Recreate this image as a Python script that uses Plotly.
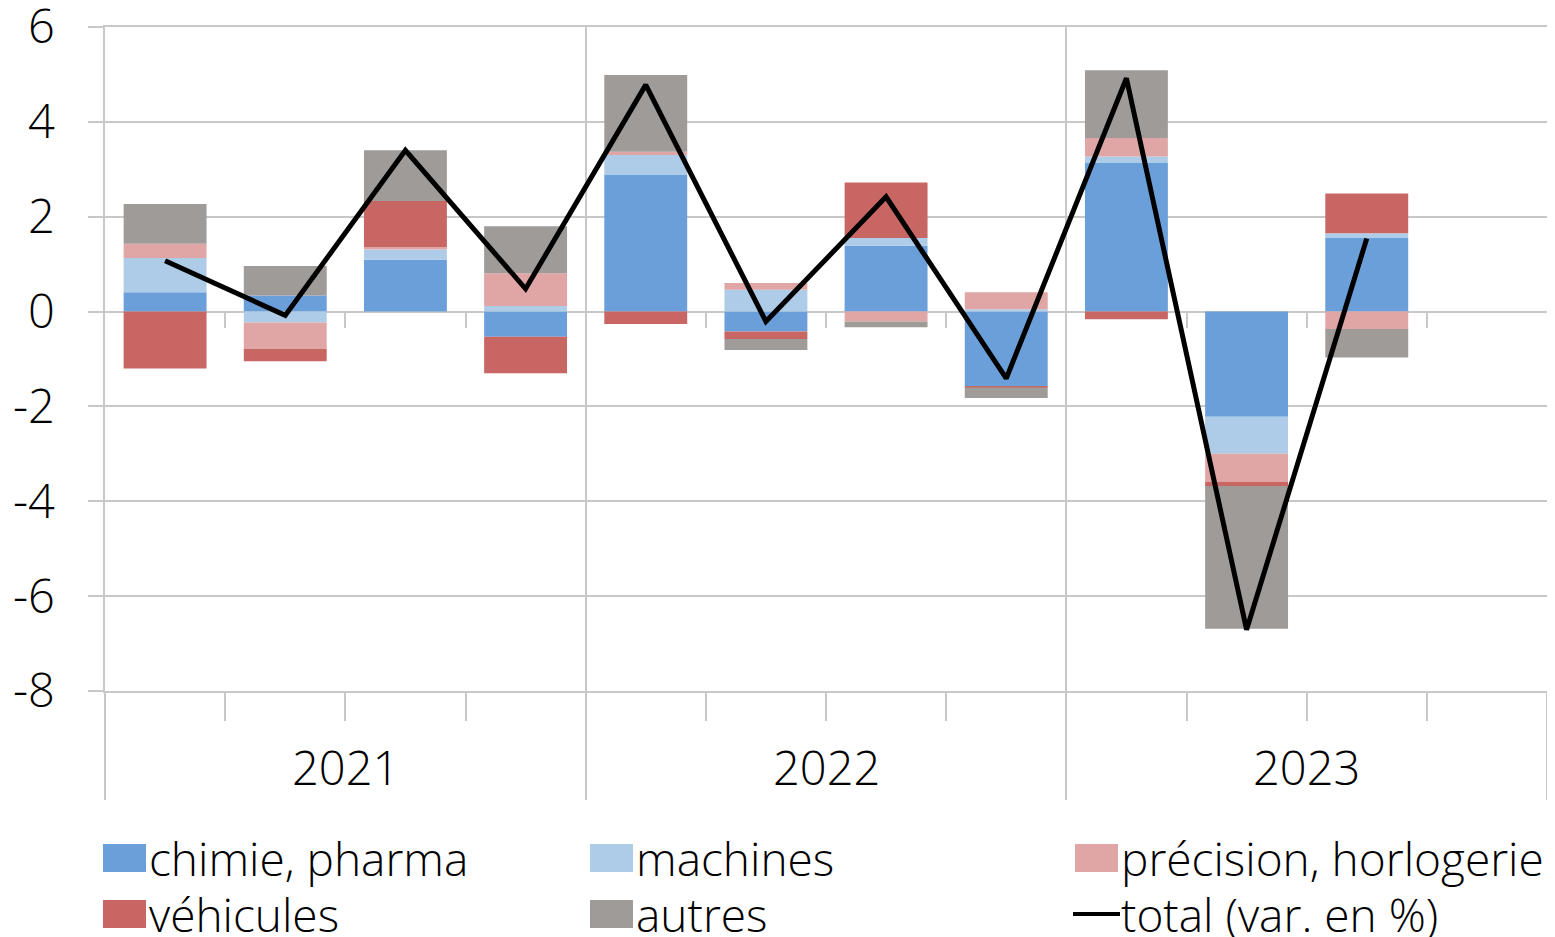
import plotly.graph_objects as go

# Trimestres 2021T1 .. 2023T4 (le dernier trimestre n'a pas encore de données)
years = ["2021", "2022", "2023"]
quarters = ["T1", "T2", "T3", "T4"]
periods = [f"{y}{q}" for y in years for q in quarters]

# Contributions à la variation (points de %)
chimie = [0.41, 0.34, 1.09, -0.53, 2.88, -0.42, 1.39, -1.57, 3.13, -2.22, 1.55, None]
machines = [0.72, -0.23, 0.22, 0.12, 0.42, 0.46, 0.16, 0.05, 0.14, -0.78, 0.10, None]
precision = [0.30, -0.56, 0.05, 0.69, 0.07, 0.14, -0.21, 0.36, 0.39, -0.59, -0.37, None]
vehicules = [-1.20, -0.26, 0.97, -0.77, -0.26, -0.16, 1.17, -0.03, -0.16, -0.09, 0.84, None]
autres = [0.84, 0.62, 1.07, 0.99, 1.62, -0.23, -0.12, -0.22, 1.43, -3.01, -0.60, None]
total = [1.07, -0.08, 3.40, 0.48, 4.78, -0.21, 2.42, -1.41, 4.92, -6.71, 1.54, None]

series = [
    ("chimie, pharma", chimie, "#6A9FDA"),
    ("machines", machines, "#AECBE8"),
    ("précision, horlogerie", precision, "#E0A5A5"),
    ("véhicules", vehicules, "#C86664"),
    ("autres", autres, "#9F9B99"),
]
total_name = "total (var. en %)"

Y_MIN, Y_MAX = -8, 6
y_ticks = list(range(Y_MIN, Y_MAX + 1, 2))
GRID = "#C8C8C8"
FONT = dict(family="Open Sans", size=47, color="black", weight=300)
LEG_FONT = dict(FONT, size=46)

# la page html garde la marge par défaut du <body> (8 px) : on en tient compte
PAGE_W, PAGE_H, BODY = 1555, 937, 8
W, H = PAGE_W - BODY, PAGE_H - BODY
# zone de tracé en pixels de la page
PL, PR, PT, PB = 105, 1547, 27, 691
L, T = PL - BODY, PT - BODY
R, B = W - (PR - BODY), H - (PB - BODY)
PW, PH = PR - PL, PB - PT


def px_x(px):
    return (px - PL) / PW


def px_y(py):
    return (PB - py) / PH


x = list(range(len(periods)))
x_range = [-0.5, len(periods) - 0.5]
year_bounds = [i - 0.5 for i in range(0, len(periods) + 1, len(quarters))]
quarter_bounds = [i + 0.5 for i in range(len(periods) - 1)]
zero_pos = (0 - Y_MIN) / (Y_MAX - Y_MIN)

fig = go.Figure()
for name, vals, color in series:
    fig.add_bar(x=x, y=vals, name=name, marker=dict(color=color, line=dict(width=0)))
fig.add_scatter(x=x, y=total, name=total_name, mode="lines",
                line=dict(color="black", width=5), xaxis="x3", cliponaxis=False)

# libellés des années au centre de chaque groupe de trimestres
for k, yr in enumerate(years):
    fig.add_annotation(x=k * len(quarters) + (len(quarters) - 1) / 2, y=0, xref="x", yref="paper",
                       text=yr, showarrow=False, yanchor="middle", yshift=-76, font=FONT)

# légende : 3 colonnes, 2 lignes, grands carrés de couleur comme dans l'original
col_left = [103, 590, 1075]
row_mid = [858, 914]
entries = [(n, c) for n, _, c in series] + [(total_name, None)]
for i, (name, color) in enumerate(entries):
    cx, cy = col_left[i % 3], row_mid[i // 3]
    if color is not None:
        fig.add_shape(type="rect", xref="paper", yref="paper",
                      x0=px_x(cx), x1=px_x(cx + 43), y0=px_y(cy - 14), y1=px_y(cy + 14),
                      fillcolor=color, line=dict(width=0))
    else:
        fig.add_shape(type="line", xref="paper", yref="paper",
                      x0=px_x(cx - 2), x1=px_x(cx + 45), y0=px_y(cy), y1=px_y(cy),
                      line=dict(color="black", width=4))
    fig.add_annotation(x=px_x(cx + 44), y=px_y(cy), xref="paper", yref="paper",
                       text=name, showarrow=False, xanchor="left", yanchor="middle",
                       font=LEG_FONT)

fig.update_layout(
    barmode="relative", bargap=0.31,
    width=W, height=H,
    margin=dict(l=L, r=R, t=T, b=B, pad=0),
    paper_bgcolor="white", plot_bgcolor="white",
    font=FONT,
    showlegend=False,
    xaxis=dict(range=x_range, tickvals=year_bounds, showticklabels=False, automargin=False,
               showgrid=True, gridcolor=GRID, gridwidth=1.5,
               ticks="outside", ticklen=107, tickcolor=GRID, tickwidth=1.5,
               minor=dict(ticks="outside", ticklen=28, tickcolor=GRID, tickwidth=1.5,
                          tickvals=quarter_bounds, showgrid=False),
               showline=True, linecolor=GRID, linewidth=1.5, mirror=True, zeroline=False),
    xaxis3=dict(range=x_range, overlaying="x", anchor="free", position=zero_pos,
                tickvals=quarter_bounds, showticklabels=False, showgrid=False,
                ticks="outside", ticklen=15, tickcolor=GRID, tickwidth=1.5,
                showline=False, zeroline=False, automargin=False),
    yaxis=dict(range=[Y_MIN, Y_MAX], tickvals=y_ticks, ticktext=[str(v) for v in y_ticks],
               showgrid=True, gridcolor=GRID, gridwidth=1.5, automargin=False,
               ticks="outside", ticklen=15, tickcolor=GRID, tickwidth=1.5,
               ticklabelstandoff=24, tickfont=FONT, ticklabeloverflow="allow",
               showline=True, linecolor=GRID, linewidth=1.5, mirror=True,
               zeroline=False),
)

fig.write_html("out.html")
